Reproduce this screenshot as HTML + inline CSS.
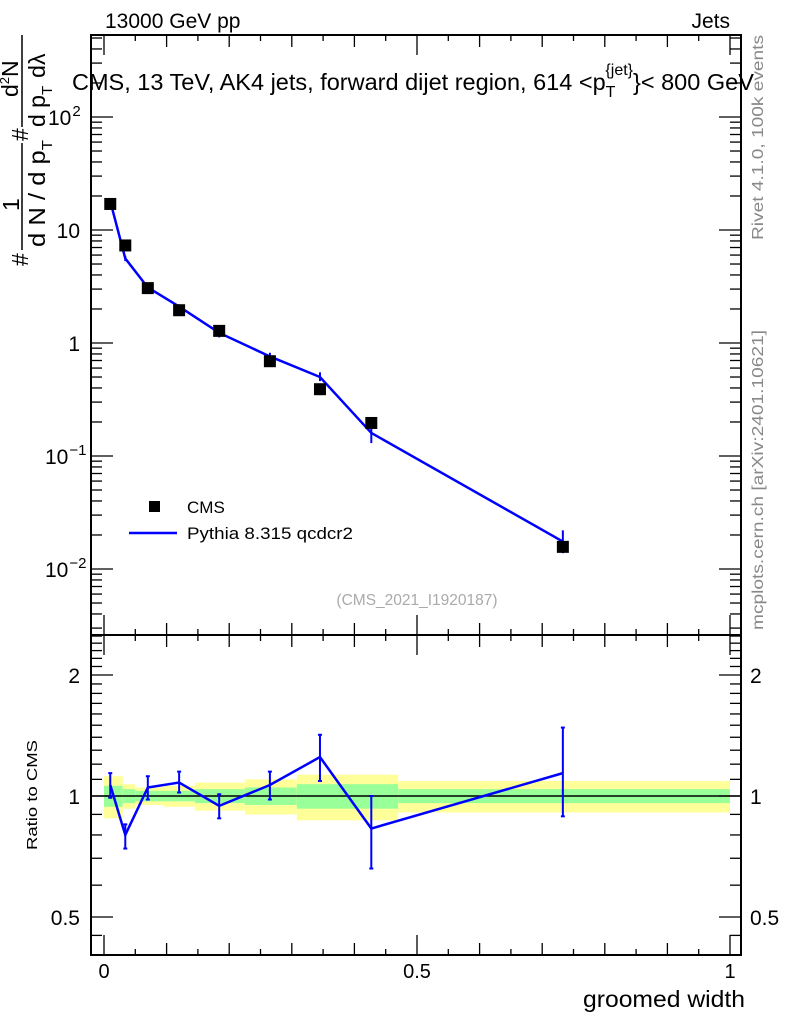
<!DOCTYPE html>
<html><head><meta charset="utf-8"><style>
body{margin:0;background:#fff;}
svg text{font-family:"Liberation Sans",sans-serif;}
</style></head><body>
<svg id="chart" width="786" height="1024" xmlns="http://www.w3.org/2000/svg">
<rect x="0" y="0" width="786" height="1024" fill="#fff"/>
<g id="bands"></g>
<g id="ticks"></g>
<g id="marks"></g>
<rect x="91" y="35" width="650" height="600" fill="none" stroke="#000" stroke-width="2"/>
<rect x="91" y="635" width="650" height="320" fill="none" stroke="#000" stroke-width="2"/>
<text x="105" y="28" font-size="21">13000 GeV pp</text>
<text x="730" y="28" font-size="21" text-anchor="end">Jets</text>
<text x="72" y="90" font-size="23.5">CMS, 13 TeV, AK4 jets, forward dijet region, 614 &lt;p<tspan font-size="16" dy="7">T</tspan><tspan font-size="16" dy="-22" dx="-10">{jet}</tspan><tspan dy="15">}&lt; 800 GeV</tspan></text>
<text transform="translate(763,240) rotate(-90)" font-size="16" fill="#888" textLength="205" lengthAdjust="spacingAndGlyphs">Rivet 4.1.0,  100k events</text>
<text transform="translate(763,630) rotate(-90)" font-size="16" fill="#888" textLength="300" lengthAdjust="spacingAndGlyphs">mcplots.cern.ch [arXiv:2401.10621]</text>
<text x="417" y="605" font-size="15.5" fill="#aaa" text-anchor="middle">(CMS_2021_I1920187)</text>
<g>
<rect x="149" y="501" width="11" height="11" fill="#000"/>
<text x="187" y="513" font-size="17">CMS</text>
<line x1="129" y1="533" x2="177" y2="533" stroke="#0000ff" stroke-width="2.5"/>
<text x="187" y="539" font-size="17" textLength="166" lengthAdjust="spacingAndGlyphs">Pythia 8.315 qcdcr2</text>
</g>
<g font-size="23">
<text transform="translate(28,266) rotate(-90)">#</text>
<text transform="translate(19,211) rotate(-90)">1</text>
<line x1="22" y1="143" x2="22" y2="250" stroke="#000" stroke-width="1.5"/>
<text transform="translate(45,247) rotate(-90)" textLength="107" lengthAdjust="spacingAndGlyphs">d N / d p<tspan font-size="15" dy="7">T</tspan></text>
<text transform="translate(28,141) rotate(-90)">#</text>
<text transform="translate(18,97) rotate(-90)">d<tspan font-size="13" dy="-9">2</tspan><tspan dy="9">N</tspan></text>
<line x1="22" y1="35" x2="22" y2="127" stroke="#000" stroke-width="1.5"/>
<text transform="translate(45,127) rotate(-90)">d p<tspan font-size="15" dy="7">T</tspan><tspan dy="-7" dx="8">d&#955;</tspan></text>
</g>
<text transform="translate(37,850) rotate(-90)" font-size="15" textLength="110" lengthAdjust="spacingAndGlyphs">Ratio to CMS</text>
<text x="745" y="1007" font-size="23" text-anchor="end" textLength="162" lengthAdjust="spacingAndGlyphs">groomed width</text>
</svg>
<script>
const binEdges=[0,0.03,0.05,0.095,0.145,0.225,0.308,0.47,1.0];
const yellowErr=[0.12,0.07,0.05,0.06,0.08,0.10,0.13,0.09];
const greenErr=[0.06,0.04,0.03,0.03,0.04,0.05,0.07,0.04];
const xVals=[0.01,0.034,0.07,0.12,0.184,0.265,0.345,0.427,0.733];
const cmsVals=[17,7.3,3.06,1.95,1.28,0.69,0.39,0.196,0.0157];
const mcVals=[18,5.6,3.1,2.1,1.23,0.76,0.5,0.16,0.0175];
const mcErrLo=[17,5.3,3.0,2.0,1.12,0.71,0.46,0.13,0.0138];
const mcErrHi=[19,5.9,3.2,2.2,1.33,0.82,0.55,0.19,0.022];
const ratioVals=[1.065,0.80,1.05,1.08,0.945,1.065,1.25,0.83,1.14];
const ratioLo=[0.99,0.74,0.98,1.02,0.88,0.98,1.09,0.66,0.89];
const ratioHi=[1.14,0.85,1.12,1.15,1.01,1.15,1.42,1.0,1.48];
const xTickLabels=["0","0.5","1"];
const xTickVals=[0,0.5,1];

const NS="http://www.w3.org/2000/svg";
const xs=v=>104+626*v;
const ys=v=>117+113*(2-Math.log10(v));
const yr=v=>796-121*Math.log2(v);
function mk(tag,attrs,parent,text){const e=document.createElementNS(NS,tag);for(const k in attrs)e.setAttribute(k,attrs[k]);if(text!==undefined)e.textContent=text;parent.appendChild(e);return e;}
const bands=document.getElementById('bands'),ticks=document.getElementById('ticks'),marks=document.getElementById('marks');

for(let i=0;i<binEdges.length-1;i++){
  const x0=xs(binEdges[i]),x1=xs(binEdges[i+1]);
  const y=mk('rect',{x:x0,y:yr(1+yellowErr[i]),width:x1-x0,height:yr(1-yellowErr[i])-yr(1+yellowErr[i]),fill:'#ffff99'},bands);
  
  
  const g=mk('rect',{x:x0,y:yr(1+greenErr[i]),width:x1-x0,height:yr(1-greenErr[i])-yr(1+greenErr[i]),fill:'#99ff99'},bands);
  
  
}
const one=mk('line',{x1:91,x2:741,y1:yr(1),y2:yr(1),stroke:'#000','stroke-width':1.5},bands);



for(let k=0;k<=20;k++){
  const v=k*0.05,x=xs(v);
  const len=(k%10===0)?20:(k%2===0?12:6);
  [[35,1],[635,-1],[635,1],[955,-1]].forEach(([y0,d])=>{mk('line',{x1:x,x2:x,y1:y0,y2:y0+d*len,stroke:'#000','stroke-width':1.3},ticks);});
}
xTickVals.forEach((v,i)=>{const t=mk('text',{x:xs(v),y:978,'font-size':20,'text-anchor':'middle'},ticks,xTickLabels[i]);

});
for(let e=-3;e<=2;e++){for(let m=1;m<=9;m++){const v=m*Math.pow(10,e);const y=ys(v);if(y<36||y>634)continue;const len=m===1?22:11;
mk('line',{x1:91,x2:91+len,y1:y,y2:y,stroke:'#000','stroke-width':1.3},ticks);mk('line',{x1:741,x2:741-len,y1:y,y2:y,stroke:'#000','stroke-width':1.3},ticks);}}
const yLab=[[100,"10","2"],[10,"10",""],[1,"1",""],[0.1,"10","−1"],[0.01,"10","−2"]];
yLab.forEach(([v,b,s])=>{const t=mk('text',{x:80,y:ys(v)+8,'font-size':21,'text-anchor':s?'start':'end'},ticks);


if(s){t.setAttribute('x',s.length>1?45:48);mk('tspan',{},t,b);mk('tspan',{'font-size':15,dy:-9,dx:1},t,s);}else{t.textContent=b;}});
const rMaj=[0.5,1,2];
const rMin=[0.6,0.7,0.8,0.9,1.1,1.2,1.3,1.4,1.5,1.6,1.7,1.8,1.9,2.1,2.2,2.3,2.4,2.5,0.45,0.4];
rMaj.forEach(v=>{const y=yr(v);mk('line',{x1:91,x2:113,y1:y,y2:y,stroke:'#000','stroke-width':1.3},ticks);mk('line',{x1:741,x2:719,y1:y,y2:y,stroke:'#000','stroke-width':1.3},ticks);
const a=mk('text',{x:80,y:y+8,'font-size':21,'text-anchor':'end'},ticks,String(v));


const b=mk('text',{x:750,y:y+8,'font-size':21},ticks,String(v));

});
rMin.forEach(v=>{const y=yr(v);if(y<636||y>954)return;mk('line',{x1:91,x2:102,y1:y,y2:y,stroke:'#000','stroke-width':1.3},ticks);mk('line',{x1:741,x2:730,y1:y,y2:y,stroke:'#000','stroke-width':1.3},ticks);});

const pl=mk('polyline',{points:xVals.map((x,i)=>xs(x)+','+ys(mcVals[i])).join(' '),fill:'none',stroke:'#0000ff','stroke-width':2.5},marks);


xVals.forEach((x,i)=>{const e=mk('line',{x1:xs(x),x2:xs(x),y1:ys(mcErrLo[i]),y2:ys(mcErrHi[i]),stroke:'#0000ff','stroke-width':2},marks);

});
xVals.forEach((x,i)=>{const r=mk('rect',{x:xs(x)-6,y:ys(cmsVals[i])-6,width:12,height:12,fill:'#000'},marks);

});
const rl=mk('polyline',{points:xVals.map((x,i)=>xs(x)+','+yr(ratioVals[i])).join(' '),fill:'none',stroke:'#0000ff','stroke-width':2.5},marks);


xVals.forEach((x,i)=>{const X=xs(x);const e=mk('line',{x1:X,x2:X,y1:yr(ratioLo[i]),y2:yr(ratioHi[i]),stroke:'#0000ff','stroke-width':2},marks);


[ratioLo[i],ratioHi[i]].forEach(v=>mk('line',{x1:X-2,x2:X+2,y1:yr(v),y2:yr(v),stroke:'#0000ff','stroke-width':2},marks));});
</script>
</body></html>
